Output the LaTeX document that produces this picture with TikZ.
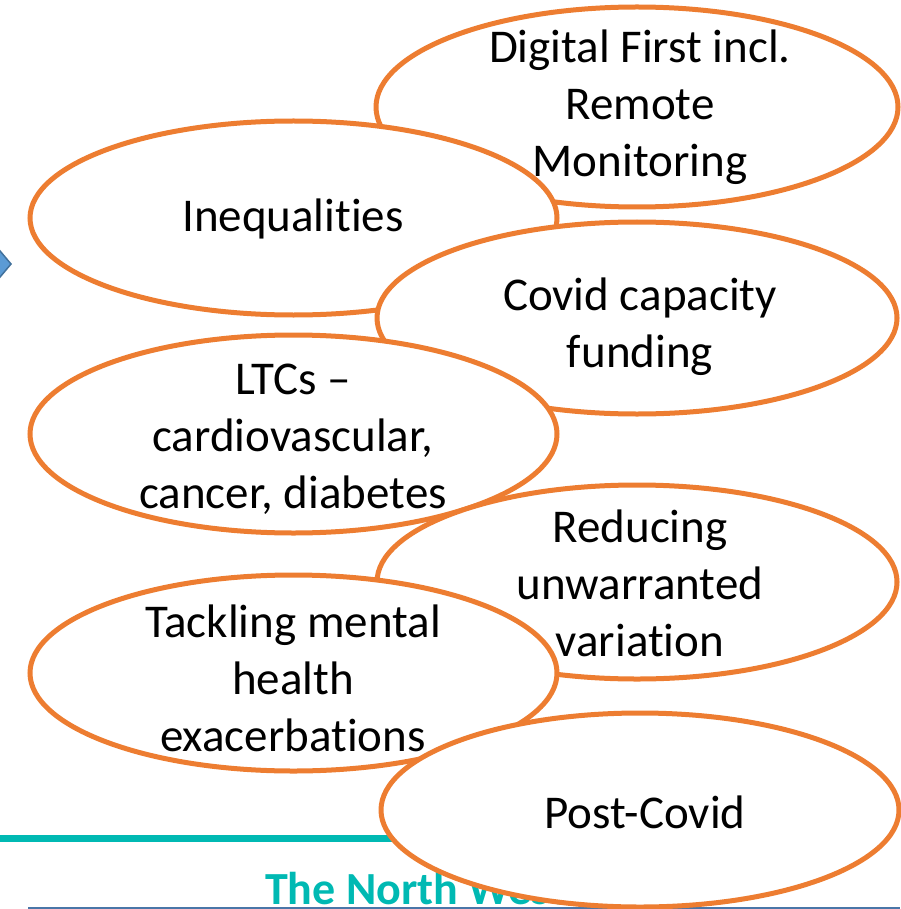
\documentclass[tikz,border=0pt]{standalone}
\usepackage{fontspec}
\setmainfont[Ligatures=NoCommon]{Carlito}
\usetikzlibrary{shapes.geometric}
\definecolor{orng}{HTML}{ED7D31}
\definecolor{tealc}{HTML}{00B9B3}
\definecolor{bluel}{HTML}{4A76A8}
\definecolor{arrowfill}{HTML}{5B9BD5}
\definecolor{arrowline}{HTML}{41719C}
\begin{document}
\begin{tikzpicture}[x=1pt,y=-1pt,
  bubble/.style={ellipse,draw=orng,line width=5pt,fill=white,inner sep=0pt},
  lbl/.style={align=center,font=\fontsize{47}{57}\selectfont,inner sep=0pt}]
\useasboundingbox (0,0) rectangle (900,909);
% footer elements
\draw[tealc,line width=7pt] (0,838) -- (560,838);
\node[anchor=base west,inner sep=0pt,text=tealc,font=\bfseries\fontsize{46}{50}\selectfont] (brand) at (265,904) {The North West};
\draw[bluel,line width=2pt] (28,907.5) -- (900,907.5);
% arrow tip at left
\filldraw[fill=arrowfill,draw=arrowline,line width=1.5pt] (-10,239) -- (11,264) -- (-10,289) -- cycle;
% ellipses
\node[bubble,minimum width=522pt,minimum height=200pt] (digital) at (637,107) {};
\node[bubble,minimum width=527pt,minimum height=194pt] (ineq) at (293.5,218) {};
\node[bubble,minimum width=520pt,minimum height=192pt] (covid) at (637,318) {};
\node[bubble,minimum width=527pt,minimum height=198pt] (ltc) at (293.5,434) {};
\node[bubble,minimum width=520pt,minimum height=194pt] (reduce) at (637,582) {};
\node[bubble,minimum width=527pt,minimum height=196pt] (tackle) at (293.5,673) {};
\node[bubble,minimum width=518pt,minimum height=194pt] (post) at (640,810) {};
% labels
\node[lbl] (tdigital) at (640,107) {Digital First incl.\\Remote\\Monitoring};
\node[lbl] (tineq) at (293,219) {Inequalities};
\node[lbl] (tcovid) at (640,327) {Covid capacity\\funding};
\node[lbl] (tltc) at (293,439) {LTCs --\\cardiovascular,\\cancer, diabetes};
\node[lbl] (treduce) at (640,583) {Reducing\\unwarranted\\variation};
\node[lbl] (ttackle) at (293,678) {Tackling mental\\health\\exacerbations};
\node[lbl] (tpost) at (645,812) {Post-Covid};
\end{tikzpicture}
\end{document}
